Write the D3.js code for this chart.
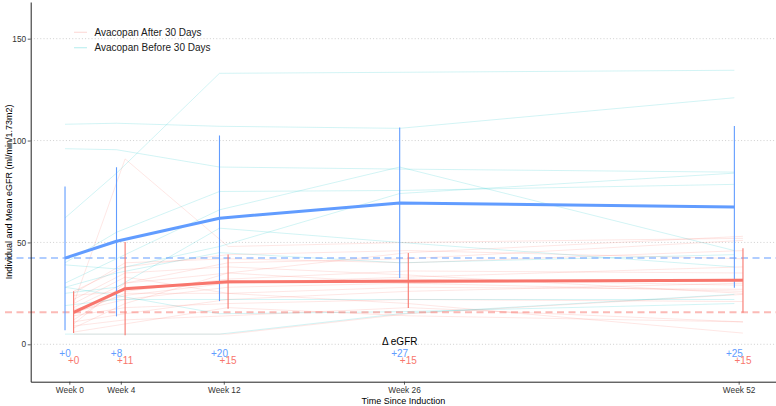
<!DOCTYPE html>
<html>
<head>
<meta charset="utf-8">
<script src="https://cdn.jsdelivr.net/npm/d3@7"></script>
<style>
  html, body { margin: 0; padding: 0; background: #fff; }
  svg { display: block; font-family: "Liberation Sans", Arial, Helvetica, sans-serif; }
</style>
</head>
<body>
<svg id="chart" width="776" height="406"></svg>
<script>
// ---------------- data ----------------
const weeks = [0, 4, 12, 26, 52];
const weekLabels = ["Week 0", "Week 4", "Week 12", "Week 26", "Week 52"];
const yTicks = [0, 50, 100, 150];
const seriesNames = ["Avacopan After 30 Days", "Avacopan Before 30 Days"];

const beforeMean = [42.3, 50.6, 61.9, 69.4, 67.4];
const beforeLo   = [6.9, 13.7, 21.2, 32.5, 27.8];
const beforeHi   = [77.5, 86.9, 102.5, 106.4, 107.2];
const afterMean  = [15.7, 27.3, 30.7, 31.0, 31.4];
const afterLo    = [5.5, 4.4, 17.5, 17.8, 15.5];
const afterHi    = [26.0, 50.2, 44.1, 44.8, 47.2];

const beforeDelta = ["+0", "+8", "+20", "+27", "+25"];
const afterDelta  = ["+0", "+11", "+15", "+15", "+15"];
const beforeBaseline = 42.3;
const afterBaseline = 15.7;

// individual patients (values at weeks 0, 4, 12, 26, 52)
const beforeIndividuals = [
  [62, 84, 133, 133.5, 134.5],
  [108, 108.5, 107, 106, 121],
  [96, 95.5, 87, 86, 84.5],
  [40, 55, 75, 75.5, 78.5],
  [30, 42, 66, 87, 46],
  [39, 37, 48, 74, 84],
  [25, 28, 57, 50, 38],
  [28, 35, 45, 40, 44],
  [19, 22, 22, 22, 22],
  [5, 5, 5, 15, 24.5],
  [28, 24, 15, 16, 20]
];
const afterIndividuals = [
  [20, 91, 48, 50, 52],
  [5, 5, 5, 15, 24.5],
  [8, 20, 35, 45, 53],
  [10, 30, 40, 42, 51],
  [12, 28, 30, 33, 38],
  [15, 25, 25, 28, 27],
  [18, 30, 35, 30, 26],
  [22, 35, 38, 34, 25],
  [25, 40, 42, 40, 46],
  [14, 18, 20, 22, 21],
  [6, 10, 18, 14, 11],
  [16, 22, 28, 30, 32],
  [20, 33, 25, 20, 5.5],
  [24, 26, 32, 36, 35],
  [11, 15, 22, 26, 30],
  [9, 12, 14, 18, 11],
  [26, 38, 44, 46, 42],
  [17, 24, 30, 32, 29]
];

// ---------------- layout ----------------
const svg = d3.select("#chart");
const panel = { left: 30.7, right: 776, top: 2, bottom: 381.7 };
const x = d3.scaleLinear().domain([-3.0, 54.9]).range([panel.left, panel.right]);
const y = d3.scaleLinear().domain([-18.35, 168]).range([panel.bottom, panel.top]);
const dodge = 4.3;

const blue = "#619CFF", red = "#F8766D", cyan = "#00BFC4";

// grid
svg.append("g").selectAll("line").data(yTicks).join("line")
  .attr("x1", panel.left).attr("x2", panel.right)
  .attr("y1", d => y(d)).attr("y2", d => y(d))
  .attr("stroke", "#c4c4c4").attr("stroke-width", 0.8)
  .attr("stroke-dasharray", "1,2.2");

// individual lines
const line = off => d3.line().x((d, i) => x(weeks[i]) + off).y(d => y(d));
svg.append("g").selectAll("path").data(afterIndividuals).join("path")
  .attr("d", line(dodge)).attr("fill", "none")
  .attr("stroke", red).attr("stroke-opacity", 0.2).attr("stroke-width", 0.9);
svg.append("g").selectAll("path").data(beforeIndividuals).join("path")
  .attr("d", line(-dodge)).attr("fill", "none")
  .attr("stroke", cyan).attr("stroke-opacity", 0.2).attr("stroke-width", 0.9);

// baseline dashed lines
[[beforeBaseline, blue], [afterBaseline, red]].forEach(([v, c]) => {
  svg.append("line")
    .attr("x1", 5).attr("x2", panel.right)
    .attr("y1", y(v)).attr("y2", y(v))
    .attr("stroke", c).attr("stroke-opacity", 0.5).attr("stroke-width", 2)
    .attr("stroke-dasharray", "7,4.5");
});

// error bars
function errorBars(lo, hi, off, color) {
  svg.append("g").selectAll("line").data(weeks).join("line")
    .attr("x1", (d) => x(d) + off).attr("x2", (d) => x(d) + off)
    .attr("y1", (d, i) => y(lo[i])).attr("y2", (d, i) => y(hi[i]))
    .attr("stroke", color).attr("stroke-width", 1.1);
}
errorBars(beforeLo, beforeHi, -dodge, blue);
errorBars(afterLo, afterHi, dodge, red);

// mean lines
svg.append("path").datum(beforeMean).attr("d", line(-dodge))
  .attr("fill", "none").attr("stroke", blue).attr("stroke-width", 3).attr("stroke-linejoin", "round");
svg.append("path").datum(afterMean).attr("d", line(dodge))
  .attr("fill", "none").attr("stroke", red).attr("stroke-width", 3).attr("stroke-linejoin", "round");

// delta labels
svg.append("text").attr("x", x(26) - dodge).attr("y", y(-0.2))
  .attr("text-anchor", "middle").attr("font-size", 10).attr("fill", "#000").text("Δ eGFR");
svg.append("g").selectAll("text").data(weeks).join("text")
  .attr("x", d => x(d) - dodge).attr("y", y(-6))
  .attr("text-anchor", "middle").attr("font-size", 10).attr("fill", blue)
  .text((d, i) => beforeDelta[i]);
svg.append("g").selectAll("text").data(weeks).join("text")
  .attr("x", d => x(d) + dodge).attr("y", y(-9.8))
  .attr("text-anchor", "middle").attr("font-size", 10).attr("fill", red)
  .text((d, i) => afterDelta[i]);

// axes
const gx = svg.append("g").attr("transform", `translate(0,${panel.bottom})`)
  .call(d3.axisBottom(x).tickValues(weeks).tickFormat((d, i) => weekLabels[i]).tickSize(3).tickSizeOuter(0));
const gy = svg.append("g").attr("transform", `translate(${panel.left},0)`)
  .call(d3.axisLeft(y).tickValues(yTicks).tickSize(3).tickSizeOuter(0));
[gx, gy].forEach(g => {
  g.select(".domain").attr("stroke", "#222").attr("stroke-width", 1);
  g.selectAll(".tick line").attr("stroke", "#333").attr("stroke-width", 0.8);
  g.selectAll(".tick text").attr("fill", "#333").attr("font-size", 8.3)
    .attr("font-family", "Liberation Sans, Arial, sans-serif");
});
gx.selectAll(".tick text").attr("dy", "0.75em").attr("y", 5);
gy.selectAll(".tick text").attr("x", -4.5);

// axis titles
svg.append("text").attr("x", (panel.left + panel.right) / 2).attr("y", 404)
  .attr("text-anchor", "middle").attr("font-size", 9).attr("fill", "#000").text("Time Since Induction");
svg.append("text")
  .attr("transform", `translate(12,${(panel.top + panel.bottom) / 2}) rotate(-90)`)
  .attr("text-anchor", "middle").attr("font-size", 9).attr("fill", "#000")
  .text("Individual and Mean eGFR (ml/min/1.73m2)");

// legend
const legend = svg.append("g");
const legendColors = [red, cyan];
seriesNames.forEach((name, i) => {
  const ly = 32.3 + i * 15.4;
  legend.append("line").attr("x1", 74).attr("x2", 87).attr("y1", ly).attr("y2", ly)
    .attr("stroke", legendColors[i]).attr("stroke-opacity", 0.25).attr("stroke-width", 1.2);
  legend.append("text").attr("x", 94.5).attr("y", ly).attr("dy", "0.35em")
    .attr("font-size", 10).attr("fill", "#1a1a1a").text(name);
});
</script>
</body>
</html>
